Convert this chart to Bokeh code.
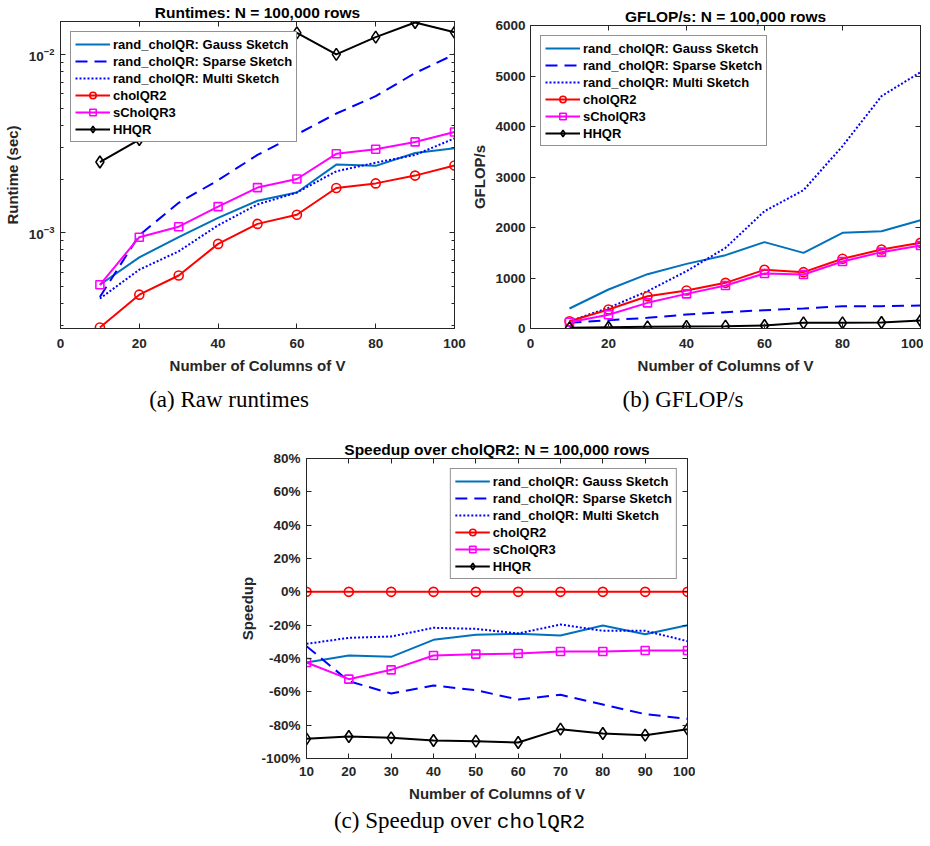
from bokeh.plotting import figure
from bokeh.layouts import column, row
from bokeh.models import (LinearAxis, LogAxis, Legend, LegendItem, FixedTicker,
                          Div, Spacer, Range1d, LogTickFormatter)
from bokeh.embed import file_html
from bokeh.resources import INLINE

# ---------------- data ----------------
cols = [10, 20, 30, 40, 50, 60, 70, 80, 90, 100]

series_names = ["rand_cholQR: Gauss Sketch", "rand_cholQR: Sparse Sketch",
                "rand_cholQR: Multi Sketch", "cholQR2", "sCholQR3", "HHQR"]

# runtimes (sec)
rt_gauss = [5.10e-4, 7.27e-4, 9.43e-4, 1.21e-3, 1.51e-3, 1.68e-3, 2.41e-3, 2.37e-3, 2.80e-3, 2.98e-3]
rt_sparse = [4.36e-4, 9.68e-4, 1.47e-3, 1.97e-3, 2.73e-3, 3.56e-3, 4.66e-3, 5.83e-3, 7.86e-3, 1.00e-2]
rt_multi = [4.27e-4, 6.20e-4, 7.86e-4, 1.10e-3, 1.44e-3, 1.68e-3, 2.21e-3, 2.47e-3, 2.73e-3, 3.38e-3]
rt_chol2 = [2.94e-4, 4.49e-4, 5.75e-4, 8.65e-4, 1.12e-3, 1.26e-3, 1.78e-3, 1.89e-3, 2.09e-3, 2.38e-3]
rt_schol3 = [5.10e-4, 9.43e-4, 1.08e-3, 1.40e-3, 1.79e-3, 2.00e-3, 2.77e-3, 2.94e-3, 3.23e-3, 3.67e-3]
rt_hhqr = [2.49e-3, 3.33e-3, 4.64e-3, 8.00e-3, 1.08e-2, 1.32e-2, 1.00e-2, 1.25e-2, 1.51e-2, 1.33e-2]

# GFLOP/s
gf_gauss = [396, 772, 1076, 1280, 1452, 1710, 1498, 1894, 1927, 2145]
gf_sparse = [112, 165, 211, 277, 323, 363, 396, 442, 442, 455]
gf_multi = [145, 409, 739, 1135, 1597, 2323, 2739, 3611, 4601, 5076]
gf_chol2 = [145, 376, 640, 752, 904, 1162, 1116, 1380, 1564, 1696]
gf_schol3 = [125, 271, 508, 686, 851, 1089, 1069, 1327, 1512, 1644]
gf_hhqr = [13, 26, 33, 40, 46, 59, 112, 112, 119, 158]

# speedup over cholQR2 (%)
sp_gauss = [-42.4, -38.2, -39.0, -28.8, -25.8, -25.2, -26.2, -20.2, -25.4, -20.0]
sp_sparse = [-32.6, -53.6, -61.0, -56.2, -59.0, -64.6, -61.8, -67.6, -73.4, -76.2]
sp_multi = [-31.2, -27.6, -26.8, -21.6, -22.2, -25.0, -19.6, -23.4, -23.4, -29.6]
sp_chol2 = [0, 0, 0, 0, 0, 0, 0, 0, 0, 0]
sp_schol3 = [-42.4, -52.4, -46.8, -38.2, -37.4, -37.0, -35.8, -35.8, -35.2, -35.2]
sp_hhqr = [-88.2, -86.8, -87.6, -89.2, -89.6, -90.4, -82.4, -85.0, -86.0, -82.4]

# tick labels
lin_ticks = [0, 20, 40, 60, 80, 100]
gf_ticks = [0, 1000, 2000, 3000, 4000, 5000, 6000]
sp_xticks = [10, 20, 30, 40, 50, 60, 70, 80, 90, 100]
sp_yticks = [-100, -80, -60, -40, -20, 0, 20, 40, 60, 80]
log_major = [1e-3, 1e-2]
log_minor = [3e-4, 4e-4, 5e-4, 6e-4, 7e-4, 8e-4, 9e-4,
             2e-3, 3e-3, 4e-3, 5e-3, 6e-3, 7e-3, 8e-3, 9e-3]

# ---------------- styles ----------------
colors = ["#0072BD", "#0000FF", "#0000FF", "#FF0000", "#FF00FF", "#000000"]
dashes = ["solid", "12 7", "2 2", "solid", "solid", "solid"]
markers = [None, None, None, "circle", "square", "diamond"]
msizes = [0, 0, 0, 9, 8, 12]

FONT = "Liberation Sans"
AX = "#262626"
TICK_FS = "13.5px"
LAB_FS = "15px"
TITLE_FS = "15.5px"
LEG_FS = "13px"


def style_axis(ax, minor=False):
    ax.major_label_text_font = FONT
    ax.major_label_text_font_size = TICK_FS
    ax.major_label_text_font_style = "bold"
    ax.major_label_text_color = AX
    ax.axis_label_text_font = FONT
    ax.axis_label_text_font_size = LAB_FS
    ax.axis_label_text_font_style = "bold"
    ax.axis_label_text_color = AX
    ax.axis_line_color = AX
    ax.major_tick_line_color = AX
    ax.major_tick_in = 5
    ax.major_tick_out = 0
    if minor:
        ax.minor_tick_line_color = AX
        ax.minor_tick_in = 3
        ax.minor_tick_out = 0
    else:
        ax.minor_tick_line_color = None


def box_axis(ax, minor=False):
    style_axis(ax, minor)
    ax.major_label_text_font_size = "1px"
    ax.major_label_text_color = None
    ax.major_label_standoff = 0


def make_fig(title, x_range, y_range, fw, fh, bl, bt, br, bb, y_log=False):
    p = figure(x_range=x_range, y_range=y_range,
               y_axis_type="log" if y_log else "linear",
               frame_width=fw, frame_height=fh,
               min_border_left=bl, min_border_top=bt,
               min_border_right=br, min_border_bottom=bb,
               output_backend="svg", toolbar_location=None)
    p.title.text = title
    p.title.align = "center"
    p.title.text_font = FONT
    p.title.text_font_size = TITLE_FS
    p.title.text_font_style = "bold"
    p.title.text_color = "#000000"
    p.title.standoff = 2
    p.grid.visible = False
    p.outline_line_color = AX
    p.outline_line_alpha = 1.0
    p.background_fill_color = "white"
    p.border_fill_color = "white"
    return p


def add_series(p, ys):
    items = []
    for name, y, c, d, m, s in zip(series_names, ys, colors, dashes, markers, msizes):
        rs = [p.line(cols, y, line_color=c, line_width=2, line_dash=d)]
        if m is not None:
            rs.append(p.scatter(cols, y, marker=m, size=s, line_color=c,
                                fill_color=None, line_width=1.6))
        items.append(LegendItem(label=name, renderers=rs))
    return items


def add_legend(p, items, loc):
    leg = Legend(items=items, location=loc)
    leg.label_text_font = FONT
    leg.label_text_font_size = LEG_FS
    leg.label_text_font_style = "bold"
    leg.label_text_color = "#000000"
    leg.glyph_width = 35
    leg.glyph_height = 16
    leg.label_height = 16
    leg.label_standoff = 3
    leg.spacing = 1
    leg.padding = 4
    leg.margin = 10
    leg.border_line_color = AX
    leg.border_line_width = 1
    leg.background_fill_color = "white"
    leg.background_fill_alpha = 1.0
    p.add_layout(leg)


# ---------------- (a) runtimes ----------------
p1 = make_fig("Runtimes: N = 100,000 rows", Range1d(0, 100), Range1d(2.9e-4, 1.53e-2),
              394, 307, 54, 13, 14, 50, y_log=True)
items1 = add_series(p1, [rt_gauss, rt_sparse, rt_multi, rt_chol2, rt_schol3, rt_hhqr])
add_legend(p1, items1, "top_left")
p1.xaxis.ticker = FixedTicker(ticks=lin_ticks)
p1.xaxis.axis_label = "Number of Columns of V"
p1.yaxis.ticker = FixedTicker(ticks=log_major, minor_ticks=log_minor)
p1.yaxis.formatter = LogTickFormatter()
p1.yaxis.axis_label = "Runtime (sec)"
style_axis(p1.xaxis[0])
style_axis(p1.yaxis[0], minor=True)
p1.xaxis.major_label_standoff = 10
p1.xaxis.axis_label_standoff = 6
p1.yaxis.major_label_standoff = 6
p1.yaxis.axis_label_standoff = 5
ta = LinearAxis(ticker=FixedTicker(ticks=lin_ticks))
box_axis(ta)
p1.add_layout(ta, "above")
ra = LogAxis(ticker=FixedTicker(ticks=log_major, minor_ticks=log_minor))
box_axis(ra, minor=True)
p1.add_layout(ra, "right")

# ---------------- (b) GFLOP/s ----------------
p2 = make_fig("GFLOP/s: N = 100,000 rows", Range1d(0, 100), Range1d(0, 6000),
              390, 303, 57, 13, 3, 44)
items2 = add_series(p2, [gf_gauss, gf_sparse, gf_multi, gf_chol2, gf_schol3, gf_hhqr])
add_legend(p2, items2, "top_left")
p2.xaxis.ticker = FixedTicker(ticks=lin_ticks)
p2.xaxis.axis_label = "Number of Columns of V"
p2.yaxis.ticker = FixedTicker(ticks=gf_ticks)
p2.yaxis.axis_label = "GFLOP/s"
style_axis(p2.xaxis[0])
style_axis(p2.yaxis[0])
p2.xaxis.major_label_standoff = 10
p2.xaxis.axis_label_standoff = 6
p2.yaxis.major_label_standoff = 5
p2.yaxis.axis_label_standoff = 4
ta2 = LinearAxis(ticker=FixedTicker(ticks=lin_ticks))
box_axis(ta2)
p2.add_layout(ta2, "above")
ra2 = LinearAxis(ticker=FixedTicker(ticks=gf_ticks))
box_axis(ra2)
p2.add_layout(ra2, "right")

# ---------------- (c) speedup ----------------
p3 = make_fig("Speedup over cholQR2: N = 100,000 rows", Range1d(10, 100), Range1d(-100, 80),
              381, 300, 67, 23, 8, 44)
items3 = add_series(p3, [sp_gauss, sp_sparse, sp_multi, sp_chol2, sp_schol3, sp_hhqr])
add_legend(p3, items3, "top_right")
p3.xaxis.ticker = FixedTicker(ticks=sp_xticks)
p3.xaxis.axis_label = "Number of Columns of V"
p3.yaxis.ticker = FixedTicker(ticks=sp_yticks)
p3.yaxis.major_label_overrides = {t: f"{t}%" for t in sp_yticks}
p3.yaxis.axis_label = "Speedup"
style_axis(p3.xaxis[0])
style_axis(p3.yaxis[0])
p3.xaxis.major_label_standoff = 8
p3.xaxis.axis_label_standoff = 6
p3.yaxis.major_label_standoff = 6
p3.yaxis.axis_label_standoff = 2
ta3 = LinearAxis(ticker=FixedTicker(ticks=sp_xticks))
box_axis(ta3)
p3.add_layout(ta3, "above")
ra3 = LinearAxis(ticker=FixedTicker(ticks=sp_yticks))
box_axis(ra3)
p3.add_layout(ra3, "right")

# ---------------- captions & layout ----------------
SERIF = "font-family:'Liberation Serif'; font-size:23px; color:#000; text-align:center;"
cap_a = Div(text=f'<div style="{SERIF} width:458px; padding-top:6px">(a) Raw runtimes</div>',
            width=458, height=57, margin=(0, 0, 0, 0))
cap_b = Div(text=f'<div style="{SERIF} width:450px; padding-top:6px">(b) GFLOP/s</div>',
            width=450, height=57, margin=(0, 0, 0, 0))
cap_c = Div(text=f'<div style="{SERIF} width:919px; padding-top:1px">(c) Speedup over '
                 f'<span style="font-family:\'Liberation Mono\'; font-size:21px">cholQR2</span></div>',
            width=919, height=34, margin=(0, 0, 0, 0))

layout = column(
    row(p1, column(Spacer(width=10, height=4), p2)),
    row(cap_a, cap_b),
    row(Spacer(width=236, height=10), p3),
    cap_c,
)

open("out.html", "w").write(file_html(layout, INLINE))
